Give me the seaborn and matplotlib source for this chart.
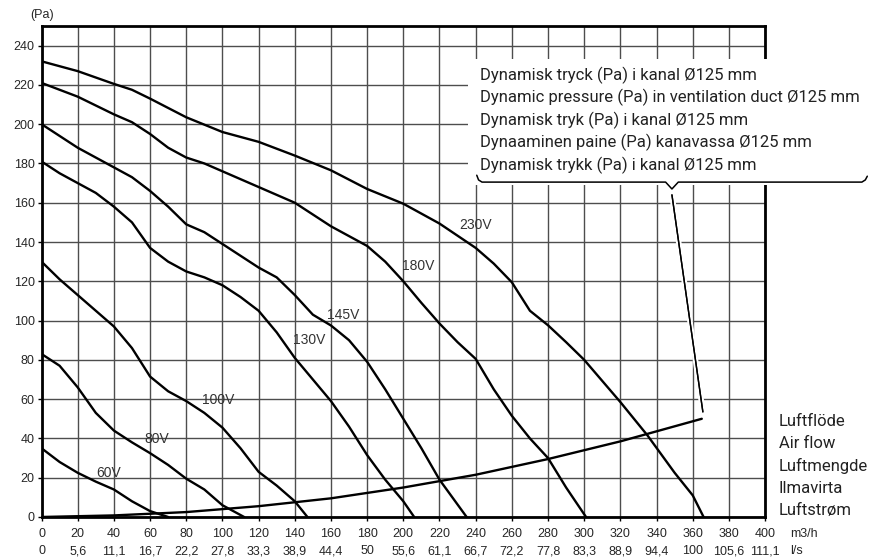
import numpy as np
import pandas as pd
import matplotlib
matplotlib.use('Agg')
import matplotlib.pyplot as plt
import matplotlib.patheffects as pe
from matplotlib.patches import Rectangle
import seaborn as sns

sns.set_theme(style='white')
plt.rcParams['font.family'] = ['Liberation Sans', 'DejaVu Sans']

# fan curves, x in m3/h, y in Pa
x_60 = [0, 10, 20, 30, 40, 50, 60, 70]
y_60 = [35, 28, 22.5, 18, 14, 8, 3, 0]

x_80 = [0, 10, 20, 30, 40, 50, 60, 70, 80, 90, 100, 112]
y_80 = [83, 77, 66, 53, 44, 38, 32.5, 26.5, 19.5, 14, 6, 0]

x_100 = [0, 10, 20, 30, 40, 50, 60, 70, 80, 90, 100, 110, 120, 130, 140, 147]
y_100 = [130, 121, 113, 105, 97, 86, 71.5, 64, 59, 53, 45.5, 35, 23, 16, 8, 0]

x_130 = [0, 10, 20, 30, 40, 50, 60, 70, 80, 90, 100, 110, 120, 130, 140, 150, 160, 170, 180, 190, 200, 206]
y_130 = [181, 175, 170, 165, 158, 150, 137, 130, 125, 122, 118, 112, 105, 94, 81, 70, 59, 46, 31.5, 19, 8, 0]

x_145 = [0, 20, 40, 50, 60, 70, 80, 90, 100, 110, 120, 130, 140, 150, 160, 170, 180, 190, 200, 210, 220, 235]
y_145 = [200, 188, 178, 173, 166, 158, 149, 145, 139, 133, 127, 122, 113, 103, 97.5, 90, 79, 65, 50, 35, 19, 0]

x_180 = [0, 20, 40, 50, 60, 70, 80, 90, 100, 120, 140, 160, 180, 190, 200, 210, 220, 230, 240, 250, 260, 270, 280, 290, 301]
y_180 = [221, 214, 205, 201, 195, 188, 183, 180, 176, 168, 160, 148, 138, 130, 120, 109, 98.5, 89, 80.5, 65, 51.5, 40, 30, 15, 0]

x_230 = [0, 20, 40, 50, 60, 80, 100, 120, 140, 160, 180, 200, 220, 240, 250, 260, 270, 280, 290, 300, 320, 335, 350, 360, 366]
y_230 = [232, 227, 220.5, 217.5, 213, 203.5, 196, 191, 184, 176.5, 167, 159.5, 149.4, 137, 129, 119.5, 105, 97.6, 89, 80, 58.5, 41.5, 22.5, 11, 0]

# duct / air flow curve
x_duct = [0, 40, 80, 120, 160, 200, 240, 280, 320, 365]
y_duct = [0, 0.8, 2.5, 5.5, 9.5, 15, 21.5, 29.5, 38.5, 50]

curves = {'60V': (x_60, y_60), '80V': (x_80, y_80), '100V': (x_100, y_100),
          '130V': (x_130, y_130), '145V': (x_145, y_145), '180V': (x_180, y_180),
          '230V': (x_230, y_230)}

# label positions (left edge of text) in data units
label_pos = {'60V': (30.5, 22.5), '80V': (57, 39.5), '100V': (88.5, 59.5),
             '130V': (139, 90.3), '145V': (158, 102.7), '180V': (199, 127.6),
             '230V': (230.7, 148.5)}

xticks_m3h = list(range(0, 401, 20))
xticks_ls = ['0', '5,6', '11,1', '16,7', '22,2', '27,8', '33,3', '38,9', '44,4', '50',
             '55,6', '61,1', '66,7', '72,2', '77,8', '83,3', '88,9', '94,4', '100',
             '105,6', '111,1']
yticks = list(range(0, 241, 20))

legend_lines = ['Dynamisk tryck (Pa) i kanal Ø125 mm',
                'Dynamic pressure (Pa) in ventilation duct Ø125 mm',
                'Dynamisk tryk (Pa) i kanal Ø125 mm',
                'Dynaaminen paine (Pa) kanavassa Ø125 mm',
                'Dynamisk trykk (Pa) i kanal Ø125 mm']
flow_lines = ['Luftflöde', 'Air flow', 'Luftmengde', 'Ilmavirta', 'Luftstrøm']

fig = plt.figure(figsize=(8.76, 5.58), dpi=100)
ax = fig.add_axes([0.0474, 0.0735, 0.826, 0.880])

for name, (xs, ys) in curves.items():
    df = pd.DataFrame({'x': xs, 'y': ys})
    sns.lineplot(data=df, x='x', y='y', ax=ax, color='black', lw=1.7, sort=False, zorder=3)
    lx, ly = label_pos[name]
    ax.text(lx, ly, name, fontsize=10, color='#333333', va='center', ha='left', zorder=4)

sns.lineplot(x=x_duct, y=y_duct, ax=ax, color='black', lw=1.7, sort=False, zorder=3)

ax.set_xlim(0, 400)
ax.set_ylim(0, 250)
ax.set_xticks(xticks_m3h)
ax.set_xticklabels([f'{a}\n{b}' for a, b in zip(xticks_m3h, xticks_ls)], fontsize=9,
                   linespacing=1.55)
ax.set_yticks(yticks)
ax.set_yticklabels([str(v) for v in yticks], fontsize=9)
ax.tick_params(axis='both', direction='out', length=3, width=1, color='black', pad=2,
               bottom=True, left=True)
ax.tick_params(axis='x', pad=5)
ax.grid(True, color='#4d4d4d', lw=1)
ax.set_axisbelow(True)
ax.set_xlabel('')
ax.set_ylabel('')
for s in ax.spines.values():
    s.set_color('black')
    s.set_linewidth(2)

# white box for the duct text (covers grid and right spine)
ax.add_patch(Rectangle((235.6, 168.8), 230, 64.5, facecolor='white', edgecolor='none',
                       zorder=2.7, clip_on=False))
txt_font = ['Roboto', 'DejaVu Sans']
for i, line in enumerate(legend_lines):
    fig.text(480 / 876, 1 - (75 + 22.6 * i) / 558, line, fontsize=12, family=txt_font,
             color='#222222', va='center', ha='left')

# bracket under the text and leader to the duct curve
bx = [240.6, 241.6, 243.5, 345, 348.5, 352, 453.5, 455.4, 456.5]
by = [174, 171.6, 170.5, 170.5, 167, 170.5, 170.5, 171.6, 173.5]
ax.plot(bx, by, color='black', lw=1.1, clip_on=False, zorder=4)
ax.plot([348.5, 365.6], [164, 53.5], color='black', lw=1, zorder=4,
        path_effects=[pe.withStroke(linewidth=4, foreground='white'), pe.Normal()])

for i, line in enumerate(flow_lines):
    fig.text(779 / 876, 1 - (421.5 + 22.3 * i) / 558, line, fontsize=12, family=txt_font,
             color='#222222', va='center', ha='left')

fig.text(790 / 876, 1 - 534 / 558, 'm3/h', fontsize=9, va='center', ha='left')
fig.text(790 / 876, 1 - 551 / 558, 'l/s', fontsize=9, va='center', ha='left')
fig.text(30 / 876, 1 - 15 / 558, '(Pa)', fontsize=9, va='center', ha='left')

fig.savefig('out.png', dpi=100)
